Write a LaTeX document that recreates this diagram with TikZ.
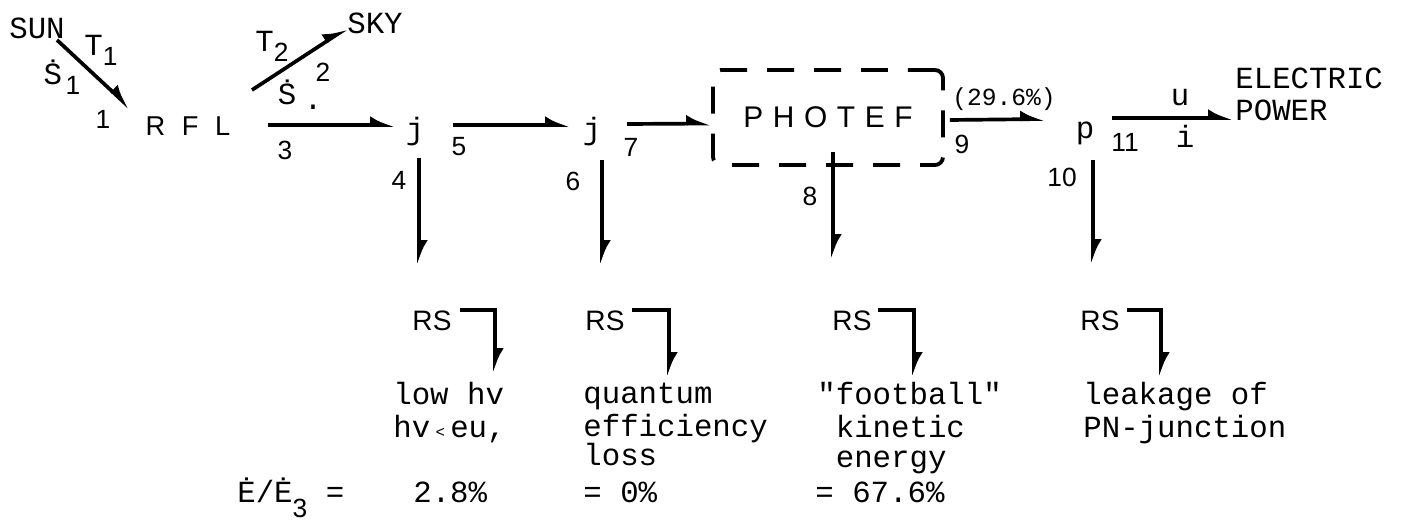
\documentclass[tikz,border=0pt]{standalone}
\usepackage{fontspec}
\setmonofont{Liberation Mono}
\setsansfont{Liberation Sans}
\usetikzlibrary{arrows.meta,positioning}

\newcommand{\monotext}{\ttfamily\fontsize{17.5}{16.8}\selectfont}
\newcommand{\numfont}{\sffamily\fontsize{15}{15}\selectfont}
\newcommand{\lowsub}[2]{\raisebox{-#1}{\numfont #2}}

\begin{document}
\begin{tikzpicture}[
      x=0.02cm, y=-0.02cm, font=\monotext,
      flow/.style={-{Latex[harpoon,length=0.38cm,width=0.36cm]}, line width=2.1pt},
      numlbl/.style={font=\numfont, inner sep=0pt},
      twlbl/.style={font=\monotext, inner sep=0pt},
      stage/.style={font=\sffamily\fontsize{15.5}{15.5}\selectfont, inner sep=0pt},
      photbox/.style={draw, line width=2.2pt, dash pattern=on 0.54cm off 0.4cm,
          rounded corners=0.16cm, minimum width=4.6cm, minimum height=1.9cm,
          inner sep=0pt, font=\sffamily\fontsize{17}{17}\selectfont},
      rslbl/.style={font=\sffamily\fontsize{16}{16}\selectfont, inner sep=0pt},
      note/.style={font=\monotext, inner sep=0pt, align=left, anchor=north west}
  ]
  \useasboundingbox (0,0) rectangle (1404,527);
  % sources and sinks
  \node[twlbl] (sun) at (37,28) {SUN};
  \node[twlbl] (sky) at (375,23) {SKY};
  \node[twlbl] (t1) at (101,50) {T\lowsub{0.2cm}{1}};
  \node[twlbl] (s1) at (62,77) {Ṡ\hspace{2pt}\lowsub{0.2cm}{1}};
  \node[twlbl] (t2) at (272,46) {T\lowsub{0.2cm}{2}};
  \node[twlbl] (s3) at (287,92) {Ṡ};
  \node[twlbl] (speck) at (313,107) {.};
  \node[stage] (rfl) at (188,126) {R\hspace{9.5pt}F\hspace{9.5pt}L};
  \node[twlbl] (ja) at (415,132) {j};
  \node[twlbl] (jb) at (592,132) {j};
  \node[photbox] (photef) at (828,117.5)
      {P\hspace{5.5pt}H\hspace{5.5pt}O\hspace{5.5pt}T\hspace{5.5pt}E\hspace{5.5pt}F};
  \node[twlbl, font=\ttfamily\fontsize{14}{14}\selectfont] (eff) at (1004,99) {(29.6\%)};
  \node[twlbl] (pn) at (1085,133) {p};
  \node[twlbl] (volt) at (1180,98) {u};
  \node[twlbl] (amp) at (1185,136) {i};
  \node[note, font=\ttfamily\fontsize{17.5}{18.1}\selectfont] (power) at (1235,65.7)
      {\strut ELECTRIC\\POWER};
  % stream numbers
  \node[numlbl] (n1) at (103,119) {1};
  \node[numlbl] (n2) at (323,72) {2};
  \node[numlbl] (n3) at (285,150) {3};
  \node[numlbl] (n4) at (399,180) {4};
  \node[numlbl] (n5) at (459,147) {5};
  \node[numlbl] (n6) at (573,181) {6};
  \node[numlbl] (n7) at (631,147) {7};
  \node[numlbl] (n8) at (810,196) {8};
  \node[numlbl] (n9) at (962,144) {9};
  \node[numlbl] (n10) at (1062,177) {10};
  \node[numlbl] (n11) at (1125,142) {11};
  % rejected streams
  \foreach \k/\xx/\dx/\ddx/\dy in {1/432/28/63/52, 2/605/27/64/56,
                                   3/852/26/62/56, 4/1100/27/61/56} {
    \node[rslbl] (rs\k) at (\xx,321) {RS};
    \draw[flow] ([shift={(\dx,-11)}]rs\k.center) -| ([shift={(\ddx,\dy)}]rs\k.center);
  }
  \draw[flow] ([shift={(20,12)}]sun.center) -- ([shift={(-58,-18)}]rfl.center);
  \draw[flow] ([shift={(64,-36)}]rfl.center) -- ([shift={(-28,5)}]sky.center);
  \draw[flow] ([shift={(80,-1)}]rfl.center) -- ([shift={(-20,-7)}]ja.center);
  \draw[flow] ([shift={(4,26)}]ja.center) -- ([shift={(-13,-56)}]rs1.center);
  \draw[flow] ([shift={(38,-7)}]ja.center) -- ([shift={(-22,-7)}]jb.center);
  \draw[flow] ([shift={(10,28)}]jb.center) -- ([shift={(-3,-56)}]rs2.center);
  \draw[flow] ([shift={(35,-8)}]jb.center) -- ([shift={(0,6)}]photef.west);
  \draw[flow] ([shift={(5,-15)}]photef.south) -- ([shift={(-19,-62)}]rs3.center);
  \draw[flow] ([shift={(5,2.5)}]photef.east) -- ([shift={(-40,-14)}]pn.center);
  \draw[flow] ([shift={(8,27)}]pn.center) -- ([shift={(-7,-57)}]rs4.center);
  \draw[flow] ([shift={(27,-15)}]pn.center) -- ([shift={(-2,52.3)}]power.north west);
  % loss descriptions
  \node[note] (lowhv) at (393,382.3)
      {\strut low hv\\hv{\fontsize{9}{9}\selectfont\hspace{3pt}<\hspace{3pt}}eu,};
  \node[note] (quant) at (583,382.3) {\strut quantum\\efficiency\\loss};
  \node[note] (foot) at (817,382.3)
      {\strut"football"\\\phantom{"}kinetic\\\phantom{"}energy};
  \node[note] (leak) at (1083,382.3) {\strut leakage of\\PN-junction};
  \node[twlbl, anchor=base west] (ratio) at (237,502) {Ė/Ė\lowsub{0.3cm}{3} =};
  \node[twlbl, anchor=base west] (r4) at (413,502) {2.8\%};
  \node[twlbl, anchor=base west] (r6) at (583,502) {= 0\%};
  \node[twlbl, anchor=base west] (r8) at (815,502) {= 67.6\%};
\end{tikzpicture}
\end{document}
